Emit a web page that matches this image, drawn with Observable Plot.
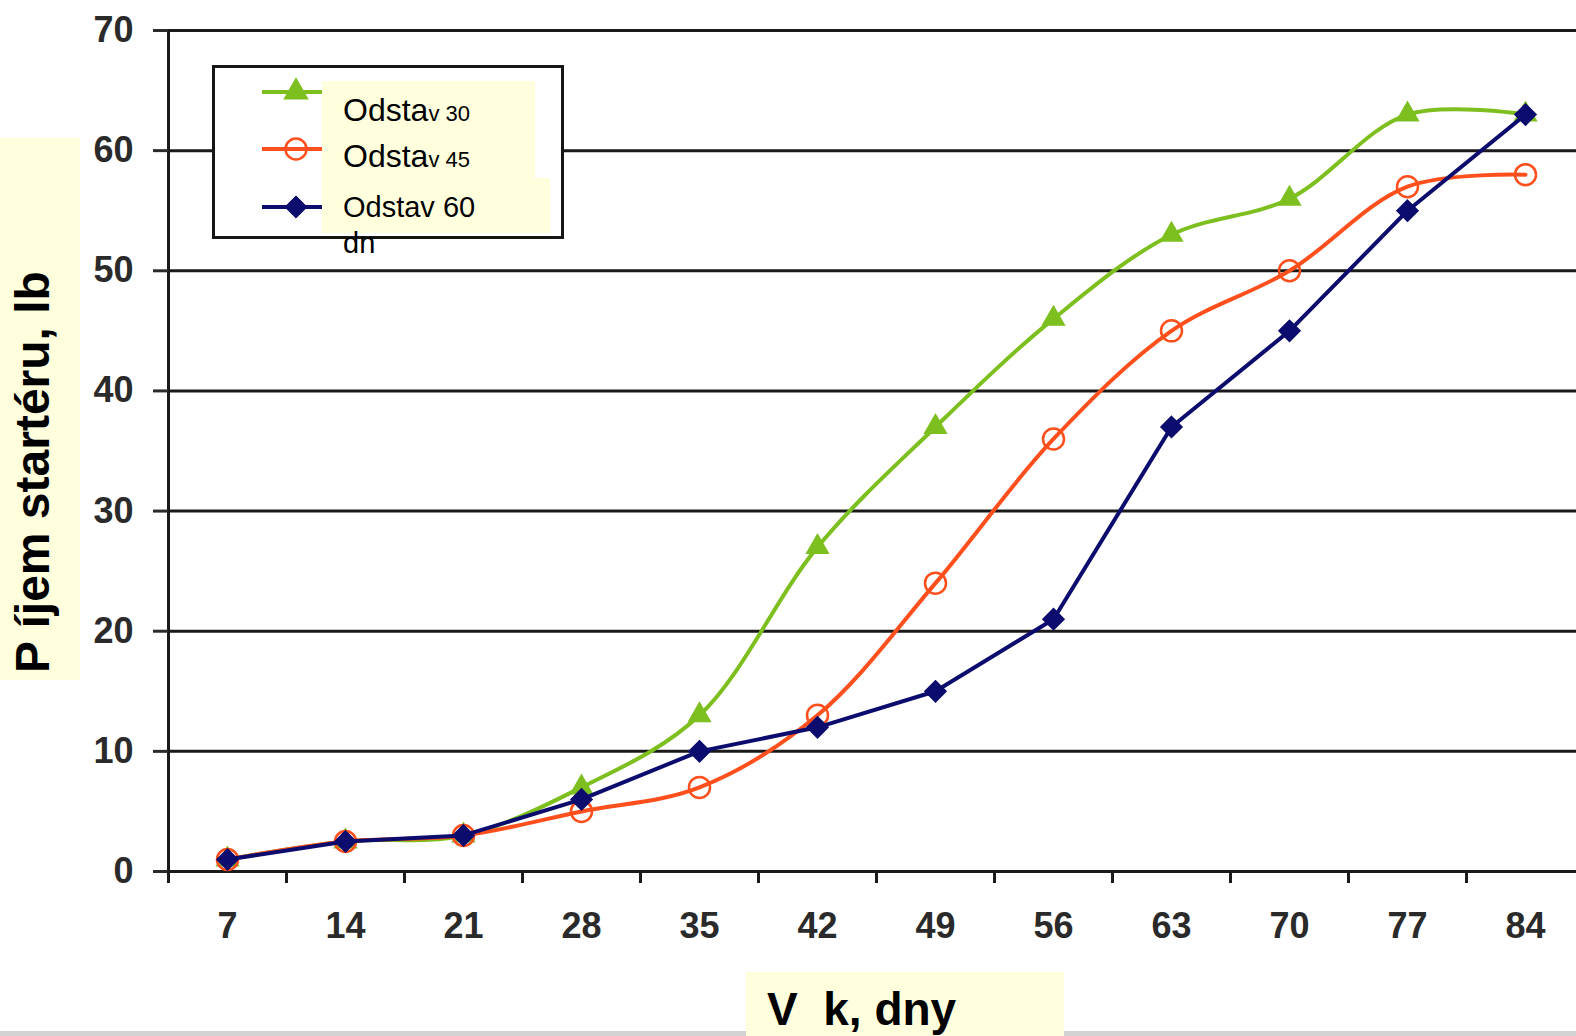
<!DOCTYPE html>
<html>
<head>
<meta charset="utf-8">
<script src="https://cdn.jsdelivr.net/npm/d3@7"></script>
<script src="https://cdn.jsdelivr.net/npm/@observablehq/plot@0.6"></script>
<style>
  html, body { margin: 0; padding: 0; background: #fff; }
  #wrap { position: relative; width: 1576px; height: 1036px; overflow: hidden; font-family: "Liberation Sans", Arial, sans-serif; }
  #chart { position: absolute; left: 0; top: 0; }
  .abs { position: absolute; }
</style>
</head>
<body>
<div id="wrap">
  <div id="chart"></div>
</div>
<script>
// ---- data ----
const days = [7, 14, 21, 28, 35, 42, 49, 56, 63, 70, 77, 84];
const odstav30 = [1, 2.5, 3, 7, 13, 27, 37, 46, 53, 56, 63, 63];
const odstav45 = [1, 2.5, 3, 5, 7, 13, 24, 36, 45, 50, 57, 58];
const odstav60 = [1, 2.5, 3, 6, 10, 12, 15, 21, 37, 45, 55, 63];
const yTicks = [0, 10, 20, 30, 40, 50, 60, 70];
const yTitle = "P íjem startéru, lb";
const xTitle = "V  k, dny";
const legendBig = ["Odsta", "Odsta", "Odstav 60"];
const legendSmall = ["v 30", "v 45", ""];
const legendExtra = "dn";

const green = "#7cbf1e";
const orange = "#ff4f1c";
const navy = "#0c0c6e";

const rows = (vals) => days.map((d, i) => ({day: d, v: vals[i]}));
const r30 = rows(odstav30), r45 = rows(odstav45), r60 = rows(odstav60);
const xBounds = days.map(d => d - 3.5);

const plot = Plot.plot({
  width: 1576,
  height: 1036,
  marginTop: 30,
  marginBottom: 165,
  marginLeft: 168,
  marginRight: 0,
  style: {fontFamily: "'Liberation Sans', Arial, sans-serif", fontWeight: "bold", background: "transparent", overflow: "hidden"},
  x: {domain: [3.5, 87.5], range: [168, 1584], label: null},
  y: {domain: [0, 70], label: null},
  marks: [
    Plot.gridY(yTicks.filter(d => d > 0), {stroke: "#1a1a1a", strokeOpacity: 1, strokeWidth: 3}),
    Plot.ruleY([0], {stroke: "#1a1a1a", strokeWidth: 3}),
    Plot.ruleX([3.5], {stroke: "#1a1a1a", strokeWidth: 3}),
    Plot.axisY({ticks: yTicks, label: null, tickSize: 15, tickPadding: 20, fontSize: 36, color: "#2a2a2a", strokeWidth: 3, tickFormat: d => String(d)}),
    Plot.axisX({ticks: xBounds, label: null, tickSize: 12, color: "#1a1a1a", strokeWidth: 3, tickFormat: () => ""}),
    Plot.axisX({ticks: days, label: null, tickSize: 0, tickPadding: 41, fontSize: 36, color: "#2a2a2a", tickFormat: d => String(d)}),
    Plot.line(r30, {x: "day", y: "v", stroke: green, strokeWidth: 4, curve: "catmull-rom"}),
    Plot.dot(r30, {x: "day", y: "v", symbol: "triangle", fill: green, r: 9}),
    Plot.line(r45, {x: "day", y: "v", stroke: orange, strokeWidth: 4, curve: "catmull-rom"}),
    Plot.dot(r45, {x: "day", y: "v", symbol: "circle", fill: "none", stroke: orange, strokeWidth: 2.5, r: 10.5}),
    Plot.line(r60, {x: "day", y: "v", stroke: navy, strokeWidth: 4}),
    Plot.dot(r60, {x: "day", y: "v", symbol: "diamond2", fill: navy, stroke: navy, r: 9.5})
  ]
});
document.getElementById("chart").appendChild(plot);

// ---- overlays: titles and legend ----
const wrap = document.getElementById("wrap");
function el(tag, css, text) {
  const e = document.createElement(tag);
  e.className = "abs";
  Object.assign(e.style, css);
  if (text !== undefined) e.textContent = text;
  wrap.appendChild(e);
  return e;
}
// bottom gray strip
el("div", {left: "0px", top: "1031px", width: "1576px", height: "5px", background: "#d2d2d2"});

// y title
const yt = el("div", {left: "0px", top: "138px", width: "80px", height: "542px", background: "#ffffdd"});
const ys = document.createElement("span");
Object.assign(ys.style, {position: "absolute", left: "9px", top: "535px", fontSize: "48px", fontWeight: "bold", lineHeight: "1", whiteSpace: "pre", transformOrigin: "0 0", transform: "rotate(-90deg)", color: "#000"});
ys.textContent = yTitle;
yt.appendChild(ys);

// x title
const xt = el("div", {left: "746px", top: "972px", width: "318px", height: "64px", background: "#ffffdd"});
const xs = document.createElement("span");
Object.assign(xs.style, {position: "absolute", left: "21px", top: "14px", fontSize: "46px", fontWeight: "bold", lineHeight: "1", whiteSpace: "pre", color: "#000"});
xs.textContent = xTitle;
xt.appendChild(xs);

// legend box
el("div", {left: "212px", top: "65px", width: "352px", height: "174px", boxSizing: "border-box", border: "3px solid #161616", background: "#fff"});

const ns = "http://www.w3.org/2000/svg";
const svg = document.createElementNS(ns, "svg");
svg.setAttribute("width", 1576);
svg.setAttribute("height", 1036);
svg.setAttribute("class", "abs");
svg.style.left = "0px"; svg.style.top = "0px"; svg.style.pointerEvents = "none";
wrap.appendChild(svg);
function s(tag, attrs, text) {
  const e = document.createElementNS(ns, tag);
  for (const k in attrs) e.setAttribute(k, attrs[k]);
  if (text !== undefined) e.textContent = text;
  svg.appendChild(e);
  return e;
}
const rowsY = [92, 149, 207];
const cols = [green, orange, navy];
rowsY.forEach((y, i) => {
  s("line", {x1: 262, x2: 330, y1: y, y2: y, stroke: cols[i], "stroke-width": 4});
});
s("path", {d: d3.symbol(d3.symbolTriangle, Math.PI * 9.5 * 9.5)(), transform: `translate(296,${rowsY[0]})`, fill: green});
s("circle", {cx: 296, cy: rowsY[1], r: 10.5, fill: "none", stroke: orange, "stroke-width": 2.5});
s("path", {d: d3.symbol(d3.symbolDiamond2, Math.PI * 10 * 10)(), transform: `translate(296,${rowsY[2]})`, fill: navy, stroke: navy});

s("rect", {x: 322, y: 81, width: 213, height: 97, fill: "#ffffdd"});
s("rect", {x: 322, y: 178, width: 228, height: 55, fill: "#ffffdd"});

const baselines = [121, 167, 217];
baselines.forEach((b, i) => {
  const t = s("text", {x: 343, y: b, "font-family": "'Liberation Sans', Arial, sans-serif", "font-size": i < 2 ? 32 : 29, fill: "#000"});
  t.appendChild(document.createTextNode(legendBig[i]));
  if (legendSmall[i]) {
    const ts = document.createElementNS(ns, "tspan");
    ts.setAttribute("font-size", 22);
    ts.textContent = legendSmall[i];
    t.appendChild(ts);
  }
});
s("text", {x: 343, y: 253, "font-family": "'Liberation Sans', Arial, sans-serif", "font-size": 29, fill: "#000"}, legendExtra);
</script>
</body>
</html>
